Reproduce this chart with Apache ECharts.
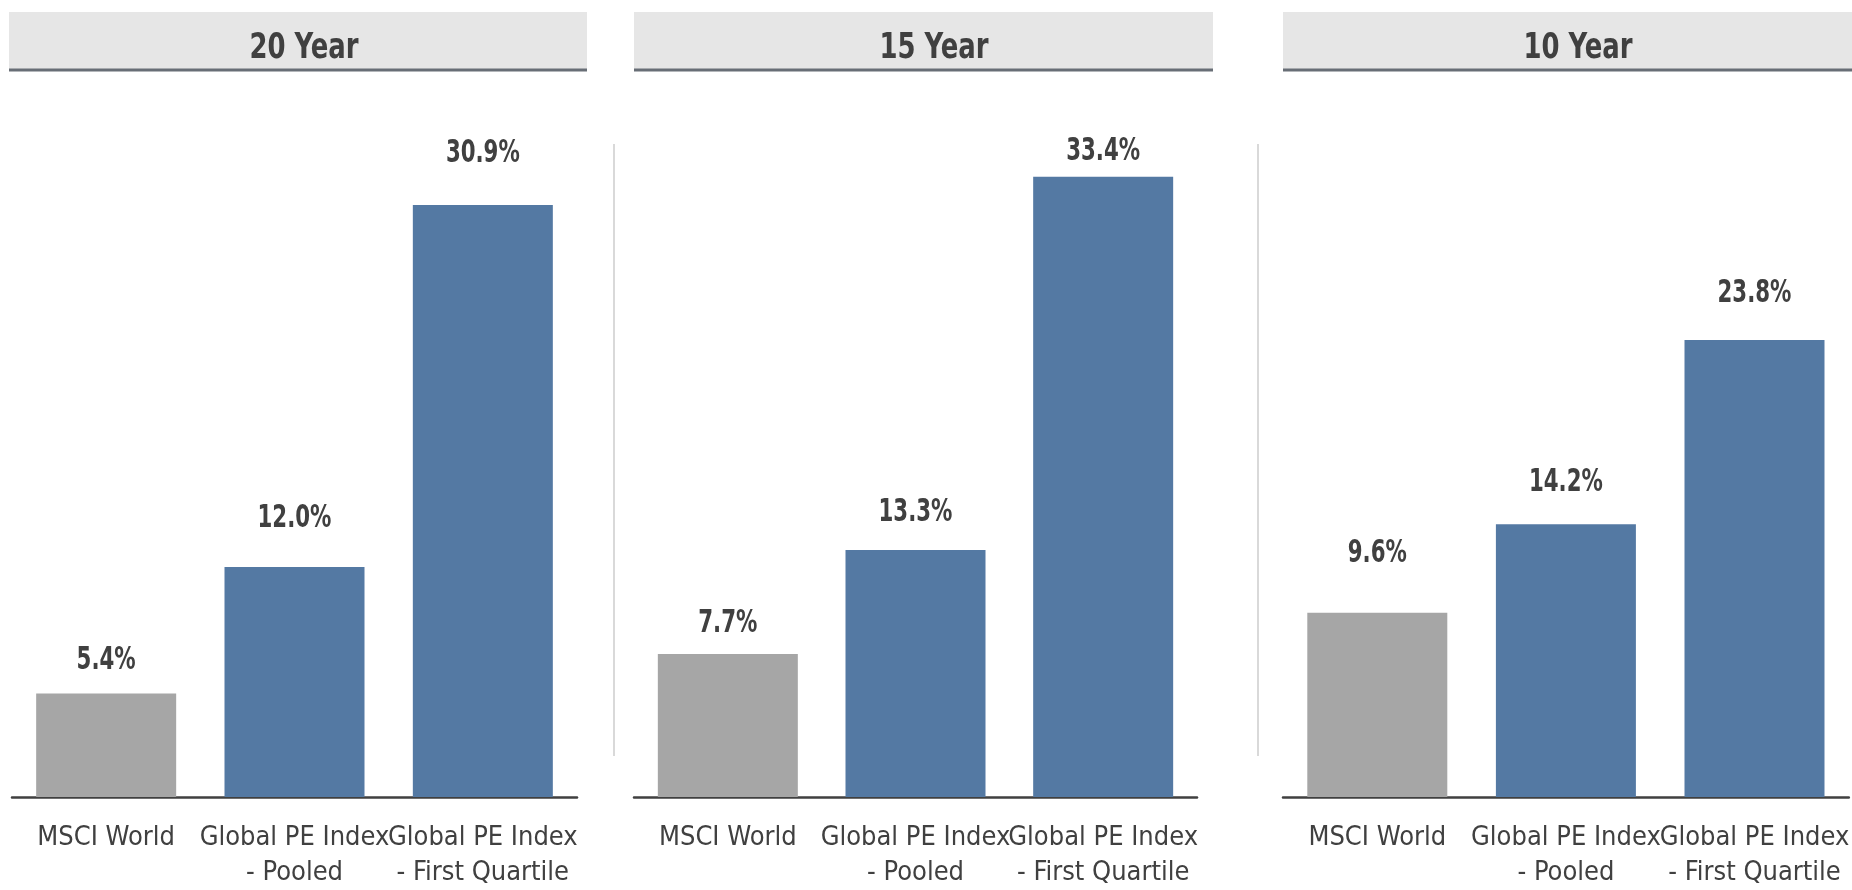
<!DOCTYPE html>
<html>
<head>
<meta charset="utf-8">
<script src="https://cdn.jsdelivr.net/npm/echarts@6/dist/echarts.min.js"></script>
<style>
  html, body { margin: 0; padding: 0; background: #ffffff; }
  #main { width: 1852px; height: 890px; }
</style>
</head>
<body>
<div id="main"></div>
<script>
// data
var periods = ['20 Year', '15 Year', '10 Year'];
var categories = ['MSCI World', 'Global PE Index\n- Pooled', 'Global PE Index\n- First Quartile'];
var msciWorld = [5.4, 7.7, 9.6];
var pePooled = [12.0, 13.3, 14.2];
var peFirstQuartile = [30.9, 33.4, 23.8];

// layout of the three panels (labelGap = distance of each value label above its bar)
var panels = [
  { left: 12, width: 565, top: 126.5, height: 674.5, headX: 9, headW: 578, titleX: 304, labelGap: [33, 48, 51] },
  { left: 634, width: 563, top: 147, height: 655, headX: 634, headW: 579, titleX: 934, labelGap: [30, 37, 25] },
  { left: 1283, width: 568, top: 125, height: 672, headX: 1283, headW: 580, titleX: 1578, labelGap: [59, 42, 46] }
];

var fontCond = '"DejaVu Sans Condensed", "Liberation Sans Narrow", Arial, sans-serif';
var textColor = '#404040';
var grayBar = '#a6a6a6';
var blueBar = '#5479a3';

var myChart = echarts.init(document.getElementById('main'), null, { renderer: 'canvas' });

var grids = [], xAxes = [], yAxes = [], series = [], graphics = [];

panels.forEach(function (p, i) {
  grids.push({ left: p.left, width: p.width, top: p.top, height: p.height });
  xAxes.push({
    type: 'category',
    gridIndex: i,
    data: categories,
    axisLine: { lineStyle: { color: '#404040', width: 2.5 } },
    axisTick: { show: false },
    axisLabel: {
      interval: 0,
      margin: 23,
      color: textColor,
      fontFamily: fontCond,
      fontSize: 27,
      lineHeight: 35
    }
  });
  yAxes.push({
    type: 'value',
    gridIndex: i,
    min: 0,
    max: 35,
    show: false
  });
  var vals = [msciWorld[i], pePooled[i], peFirstQuartile[i]];
  series.push({
    type: 'bar',
    xAxisIndex: i,
    yAxisIndex: i,
    barWidth: 140,
    data: vals.map(function (v, k) {
      return { value: v, itemStyle: { color: k === 0 ? grayBar : blueBar } };
    })
  });
  // value labels, narrow bold text above each bar
  series.push({
    type: 'custom',
    xAxisIndex: i,
    yAxisIndex: i,
    silent: true,
    data: vals.map(function (v, k) { return [k, v]; }),
    renderItem: function (params, api) {
      var k = api.value(0);
      var pt = api.coord([k, api.value(1)]);
      return {
        type: 'text',
        x: pt[0],
        y: pt[1] - p.labelGap[k],
        scaleX: 0.74,
        style: {
          text: api.value(1).toFixed(1) + '%',
          align: 'center',
          verticalAlign: 'middle',
          fill: textColor,
          font: 'bold 32px ' + fontCond
        }
      };
    }
  });

  // header band
  graphics.push({
    type: 'rect',
    shape: { x: p.headX, y: 12, width: p.headW, height: 57 },
    style: { fill: '#e6e6e6' }
  });
  graphics.push({
    type: 'rect',
    shape: { x: p.headX, y: 68.5, width: p.headW, height: 3 },
    style: { fill: '#686e76' }
  });
  graphics.push({
    type: 'text',
    x: p.titleX,
    y: 48.5,
    scaleX: 0.8,
    style: {
      text: periods[i],
      align: 'center',
      verticalAlign: 'middle',
      fill: textColor,
      font: 'bold 36px ' + fontCond
    }
  });
});

// separators between panels
[614, 1258].forEach(function (x) {
  graphics.push({
    type: 'line',
    shape: { x1: x, y1: 144, x2: x, y2: 756 },
    style: { stroke: '#d9d9d9', lineWidth: 2 }
  });
});

var option = {
  backgroundColor: '#ffffff',
  animation: false,
  grid: grids,
  xAxis: xAxes,
  yAxis: yAxes,
  series: series,
  graphic: graphics
};
myChart.setOption(option, true);
</script>
</body>
</html>
